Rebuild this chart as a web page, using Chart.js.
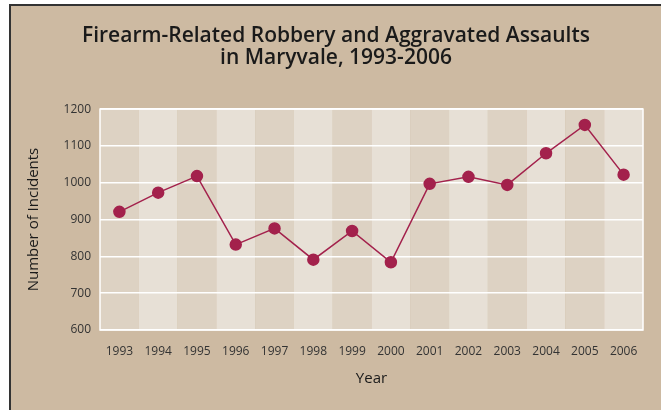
<!DOCTYPE html>
<html>
<head>
<meta charset="utf-8">
<script src="https://cdn.jsdelivr.net/npm/chart.js@4.4.0/dist/chart.umd.min.js"></script>
<style>
  html, body { margin: 0; padding: 0; background: #ffffff; }
  #frame {
    position: absolute; left: 9px; top: 4px; width: 650px; height: 406px;
    background: #cdbaa2;
    border-left: 2px solid #333; border-top: 2px solid #333; border-right: 1px solid #b8a890;
  }
  canvas { display: block; }
</style>
</head>
<body>
<div id="frame"><canvas id="myChart" width="650" height="406"></canvas></div>
<script>
const years = ['1993','1994','1995','1996','1997','1998','1999','2000','2001','2002','2003','2004','2005','2006'];
const incidents = [921, 973, 1018, 832, 876, 791, 869, 784, 997, 1016, 994, 1080, 1157, 1022];
const y_ticks = [600, 700, 800, 900, 1000, 1100, 1200];

// alternating column bands behind the grid
const bandPlugin = {
    id: 'bands',
    beforeDraw(chart) {
        const ctx = chart.ctx;
        const area = chart.chartArea;
        const x = chart.scales.x;
        const w = (area.right - area.left) / years.length;
        ctx.save();
        years.forEach((y, i) => {
            const cx = x.getPixelForValue(i);
            ctx.fillStyle = i % 2 === 0 ? '#ddd2c3' : '#e7e0d6';
            ctx.fillRect(cx - w / 2, area.top, w, area.bottom - area.top);
        });
        ctx.restore();
    },
    beforeDatasetsDraw(chart) {
        const ctx = chart.ctx;
        const a = chart.chartArea;
        ctx.save();
        ctx.strokeStyle = '#ffffff';
        ctx.lineWidth = 1.5;
        ctx.strokeRect(a.left, a.top, a.right - a.left, a.bottom - a.top);
        ctx.restore();
    }
};

const config = {
    type: 'line',
    data: {
        labels: years,
        datasets: [{
            data: incidents,
            borderColor: '#a3214c',
            backgroundColor: '#a3214c',
            borderWidth: 1.5,
            pointRadius: 5.5,
            pointHoverRadius: 5.5,
            tension: 0
        }]
    },
    options: {
        responsive: false,
        animation: false,
        layout: { padding: { left: 18, right: 18, top: 0, bottom: 24 } },
        plugins: {
            legend: { display: false },
            tooltip: { enabled: false },
            title: {
                display: true,
                text: ['Firearm-Related Robbery and Aggravated Assaults', 'in Maryvale, 1993-2006'],
                color: '#1a1a1a',
                font: { family: 'Open Sans', size: 21, weight: '600', lineHeight: 1.05 },
                padding: { top: 19, bottom: 40 }
            }
        },
        scales: {
            x: {
                offset: true,
                grid: { display: false, drawTicks: false },
                border: { display: false },
                ticks: { color: '#333', font: { family: 'Open Sans', size: 12 }, padding: 14, maxRotation: 0, autoSkip: false },
                title: { display: true, text: 'Year', color: '#1a1a1a', font: { family: 'Open Sans', size: 15 }, padding: { top: 8, bottom: 0 } },
                afterFit(scale) { scale.height = 58; }
            },
            y: {
                min: 600,
                max: 1200,
                afterBuildTicks(scale) { scale.ticks = y_ticks.map(v => ({ value: v })); },
                grid: { color: '#ffffff', lineWidth: 1.5, drawTicks: false },
                border: { display: false },
                ticks: { color: '#333', font: { family: 'Open Sans', size: 12 }, padding: 9, callback: v => String(v) },
                title: { display: true, text: 'Number of Incidents', color: '#1a1a1a', font: { family: 'Open Sans', size: 15 }, padding: { top: -4, bottom: 0 } },
                afterFit(scale) { scale.width = 71; }
            }
        }
    },
    plugins: [bandPlugin]
};

const myChart = new Chart(document.getElementById('myChart').getContext('2d'), config);
</script>
</body>
</html>
